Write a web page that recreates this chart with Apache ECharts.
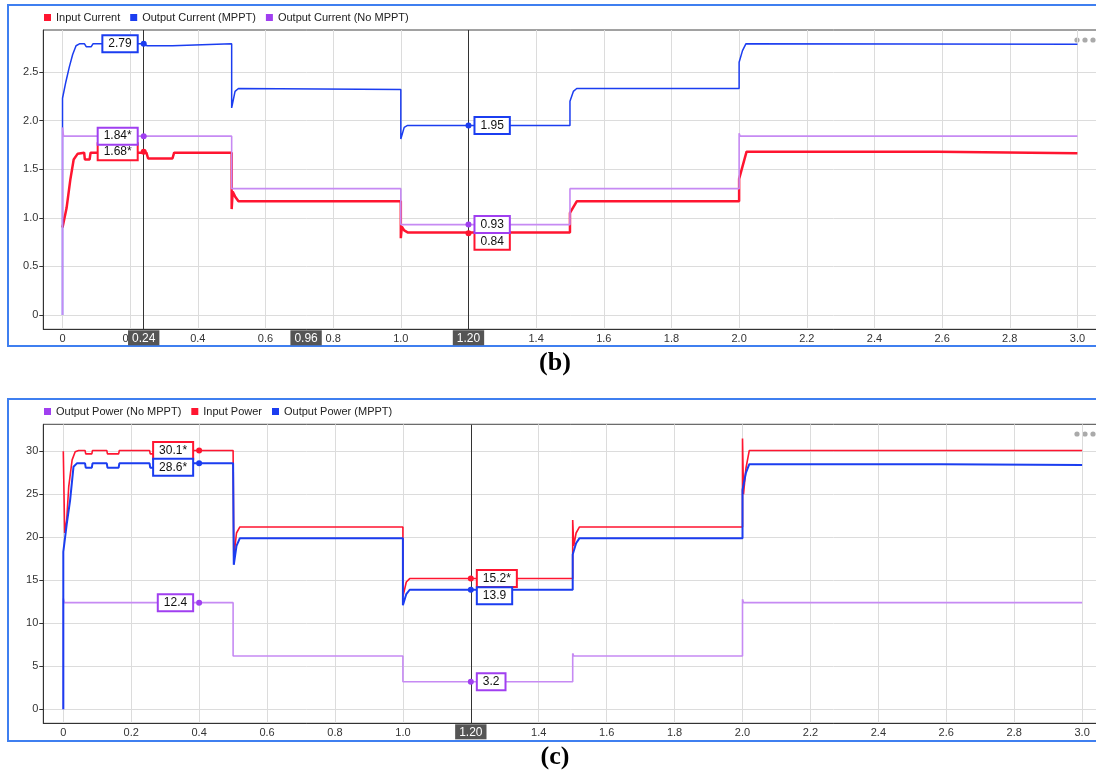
<!DOCTYPE html>
<html>
<head>
<meta charset="utf-8">
<title>MPPT current / power</title>
<script src="https://cdn.jsdelivr.net/npm/echarts@6/dist/echarts.min.js"></script>
<style>
  html, body { margin: 0; padding: 0; background: #fff; }
  #chart { width: 1096px; height: 773px; }
</style>
</head>
<body>
<div id="chart"></div>
<script>
// tick values
var xTicks = [0, 0.2, 0.4, 0.6, 0.8, 1.0, 1.2, 1.4, 1.6, 1.8, 2.0, 2.2, 2.4, 2.6, 2.8, 3.0];
var currentTicks = [0, 0.5, 1.0, 1.5, 2.0, 2.5];
var powerTicks = [0, 5, 10, 15, 20, 25, 30];

// (b) currents  [t, A]
var inputCurrent = [
  [0, 0.9], [0.012, 1.1], [0.023, 1.39], [0.033, 1.6], [0.045, 1.66], [0.064, 1.67], [0.066, 1.6],
  [0.08, 1.6], [0.083, 1.67], [0.235, 1.67], [0.24, 1.69], [0.248, 1.67], [0.253, 1.61], [0.325, 1.61],
  [0.33, 1.67], [0.5, 1.67], [0.5, 1.09], [0.503, 1.27], [0.51, 1.22], [0.52, 1.17], [1.0, 1.17],
  [1.0, 0.79], [1.003, 0.91], [1.01, 0.87], [1.02, 0.85], [1.5, 0.85], [1.5, 1.05], [1.52, 1.17],
  [2.0, 1.17], [2.0, 1.4], [2.022, 1.68], [2.585, 1.68], [2.59, 1.665], [3.0, 1.665]
];
var outputCurrentMppt = [
  [0, 0], [0, 2.23], [0.01, 2.4], [0.02, 2.55], [0.03, 2.68], [0.04, 2.77], [0.05, 2.79],
  [0.065, 2.79], [0.07, 2.76], [0.085, 2.76], [0.09, 2.79], [0.24, 2.79], [0.25, 2.77], [0.325, 2.77],
  [0.33, 2.79], [0.5, 2.79], [0.5, 2.13], [0.51, 2.3], [0.52, 2.33], [1.0, 2.32], [1.0, 1.81],
  [1.01, 1.93], [1.02, 1.95], [1.5, 1.95], [1.5, 2.2], [1.51, 2.3], [1.52, 2.33], [2.0, 2.33],
  [2.0, 2.6], [2.01, 2.72], [2.02, 2.79], [3.0, 2.785]
];
var outputCurrentNoMppt = [
  [0, 0], [0, 1.93], [0.003, 1.84], [0.5, 1.84], [0.5, 1.3], [1.0, 1.3], [1.0, 0.93], [1.5, 0.93],
  [1.5, 1.3], [2.0, 1.3], [2.0, 1.87], [2.003, 1.84], [3.0, 1.84]
];

// (c) powers  [t, W]
var outputPowerNoMppt = [
  [0, 0], [0, 12.9], [0.003, 12.4], [0.5, 12.4], [0.5, 6.2], [1.0, 6.2], [1.0, 3.2], [1.5, 3.2],
  [1.5, 6.5], [1.503, 6.2], [2.0, 6.2], [2.0, 12.8], [2.003, 12.4], [3.0, 12.4]
];
var inputPower = [
  [0, 30], [0.004, 20.5], [0.01, 22], [0.016, 25.9], [0.026, 29], [0.035, 29.95], [0.045, 30.1],
  [0.064, 30.1], [0.066, 29.7], [0.084, 29.7], [0.086, 30.1], [0.128, 30.1], [0.13, 29.7],
  [0.163, 29.7], [0.165, 30.1], [0.254, 30.1], [0.256, 29.7], [0.285, 29.7], [0.287, 30.1],
  [0.5, 30.1], [0.502, 17.7], [0.51, 20.5], [0.52, 21.2], [1.0, 21.2], [1.0, 13.1], [1.01, 14.8],
  [1.02, 15.2], [1.5, 15.2], [1.5, 22.0], [1.503, 19], [1.51, 20.5], [1.52, 21.2], [2.0, 21.2],
  [2.0, 31.5], [2.003, 25], [2.01, 28], [2.02, 30.1], [3.0, 30.1]
];
var outputPowerMppt = [
  [0, 0], [0, 18.3], [0.01, 21.5], [0.02, 24.3], [0.03, 28.2], [0.04, 28.6], [0.064, 28.6],
  [0.066, 28.1], [0.084, 28.1], [0.086, 28.6], [0.128, 28.6], [0.13, 28.1], [0.163, 28.1],
  [0.165, 28.6], [0.254, 28.6], [0.256, 28.1], [0.285, 28.1], [0.287, 28.6], [0.5, 28.6],
  [0.502, 16.8], [0.51, 19.0], [0.52, 19.9], [1.0, 19.9], [1.0, 12.1], [1.01, 13.4], [1.02, 13.9],
  [1.5, 13.9], [1.5, 18.0], [1.51, 19.3], [1.52, 19.9], [2.0, 19.9], [2.0, 25.5], [2.01, 27.5],
  [2.02, 28.5], [2.585, 28.5], [2.59, 28.4], [3.0, 28.4]
];

// cursors: [label, t]
var cursorsB = [['0.24', 0.24], ['1.20', 1.20]];
var deltaB = ['0.96', 0.72];
var cursorsC = [['1.20', 1.20]];

// readouts: [t, value, text, side, dy]
var readInputCurrent = [[0.24, 1.68, '1.68*', 'left', 0], [1.20, 0.84, '0.84', 'right', 8]];
var readOutputCurrentMppt = [[0.24, 2.79, '2.79', 'left', 0], [1.20, 1.95, '1.95', 'right', 0]];
var readOutputCurrentNoMppt = [[0.24, 1.84, '1.84*', 'left', 0], [1.20, 0.93, '0.93', 'right', 0]];
var readInputPower = [[0.4, 30.1, '30.1*', 'left', 0], [1.20, 15.2, '15.2*', 'right', 0]];
var readOutputPowerMppt = [[0.4, 28.6, '28.6*', 'left', 4], [1.20, 13.9, '13.9', 'right', 6]];
var readOutputPowerNoMppt = [[0.4, 12.4, '12.4', 'left', 0], [1.20, 3.2, '3.2', 'right', 0]];

var RED = '#ff1530';
var BLUE = '#1b3df0';
var PURPLE = '#a03ff0';
var PURPLE_LINE = '#c68af3';
var FONT = '"Liberation Sans", Arial, Helvetica, sans-serif';

function readout(list, color) {
  return {
    symbol: 'circle',
    symbolSize: 6,
    silent: true,
    itemStyle: { color: color },
    label: {
      show: true,
      formatter: '{b}',
      backgroundColor: '#fff',
      borderColor: color,
      borderWidth: 2,
      padding: [2, 5, 1, 5],
      color: '#111',
      fontSize: 12,
      fontFamily: FONT,
      distance: 4
    },
    data: list.map(function (r) {
      return { name: r[2], coord: [r[0], r[1]], label: { position: r[3], offset: [0, r[4]] } };
    })
  };
}

function cursorLines(list, delta) {
  var data = list.map(function (c) { return { name: c[0], xAxis: c[1] }; });
  if (delta) {
    // span between the two cursors: label only, no line
    data.push({ name: delta[0], xAxis: delta[1], lineStyle: { color: 'rgba(0,0,0,0)' } });
  }
  return {
    silent: true,
    symbol: ['none', 'none'],
    lineStyle: { color: '#333', type: 'solid', width: 1 },
    label: {
      show: true,
      position: 'start',
      formatter: '{b}',
      backgroundColor: '#555',
      color: '#fff',
      padding: [2, 4, 1, 4],
      fontSize: 12,
      fontFamily: FONT,
      distance: 1
    },
    data: data
  };
}

function numLabel(v) {
  return v === 0 ? '0' : v.toFixed(1);
}

function xAxis(idx, min, max) {
  return {
    type: 'value',
    gridIndex: idx,
    min: min,
    max: max,
    axisLine: { show: true, onZero: false, lineStyle: { color: '#333' } },
    axisTick: { show: false, customValues: xTicks },
    axisLabel: { customValues: xTicks, formatter: numLabel, color: '#333', fontSize: 11, fontFamily: FONT, margin: 4 },
    splitLine: { show: true, lineStyle: { color: '#dcdcdc' } }
  };
}

function yAxis(idx, min, max, ticks, fmt) {
  return {
    type: 'value',
    gridIndex: idx,
    min: min,
    max: max,
    axisLine: { show: true, onZero: false, lineStyle: { color: '#333' } },
    axisTick: { show: true, length: 4, customValues: ticks, lineStyle: { color: '#333' } },
    axisLabel: { customValues: ticks, formatter: fmt, color: '#333', fontSize: 11, fontFamily: FONT, margin: 5 },
    splitLine: { show: true, lineStyle: { color: '#dcdcdc' } }
  };
}

function line(name, data, idx, color, lineColor, width, marks, cursors) {
  var s = {
    name: name,
    type: 'line',
    xAxisIndex: idx,
    yAxisIndex: idx,
    data: data,
    showSymbol: false,
    symbol: 'none',
    itemStyle: { color: color },
    lineStyle: { color: lineColor, width: width },
    markPoint: marks
  };
  if (cursors) s.markLine = cursors;
  return s;
}

function dots(y) {
  return [1077, 1085, 1093].map(function (x) {
    return { type: 'circle', shape: { cx: x, cy: y, r: 2.6 }, style: { fill: '#aaa' }, silent: true };
  });
}

var chart = echarts.init(document.getElementById('chart'));
chart.setOption({
  animation: false,
  backgroundColor: '#fff',
  textStyle: { fontFamily: FONT },
  graphic: [
    { type: 'rect', shape: { x: 8, y: 5, width: 1200, height: 341 }, style: { fill: 'none', stroke: '#3f7ff0', lineWidth: 2 }, silent: true },
    { type: 'rect', shape: { x: 8, y: 399, width: 1200, height: 342 }, style: { fill: 'none', stroke: '#3f7ff0', lineWidth: 2 }, silent: true },
    { type: 'text', x: 555, y: 363, style: { text: '(b)', font: 'bold 26px "Liberation Serif", "Times New Roman", serif', fill: '#000', textAlign: 'center', textVerticalAlign: 'middle' }, silent: true },
    { type: 'text', x: 555, y: 757, style: { text: '(c)', font: 'bold 26px "Liberation Serif", "Times New Roman", serif', fill: '#000', textAlign: 'center', textVerticalAlign: 'middle' }, silent: true }
  ].concat(dots(40), dots(434)),
  legend: [
    {
      left: 44, top: 12, padding: 0, itemGap: 10, itemWidth: 7, itemHeight: 7, icon: 'rect',
      textStyle: { fontSize: 11, color: '#222', fontFamily: FONT },
      data: ['Input Current', 'Output Current (MPPT)', 'Output Current (No MPPT)']
    },
    {
      left: 44, top: 406, padding: 0, itemGap: 10, itemWidth: 7, itemHeight: 7, icon: 'rect',
      textStyle: { fontSize: 11, color: '#222', fontFamily: FONT },
      data: ['Output Power (No MPPT)', 'Input Power', 'Output Power (MPPT)']
    }
  ],
  grid: [
    { left: 43.3, top: 30, width: 1060, height: 299.3, show: true, borderColor: '#444', borderWidth: 1, outerBoundsMode: 'none' },
    { left: 43.3, top: 424.3, width: 1060, height: 299, show: true, borderColor: '#444', borderWidth: 1, outerBoundsMode: 'none' }
  ],
  xAxis: [
    xAxis(0, -0.0568, 3.0765),
    xAxis(1, -0.0589, 3.0624)
  ],
  yAxis: [
    yAxis(0, -0.147, 2.932, currentTicks, numLabel),
    yAxis(1, -1.63, 33.14, powerTicks, null)
  ],
  series: [
    line('Input Current', inputCurrent, 0, RED, RED, 2.5, readout(readInputCurrent, RED), cursorLines(cursorsB, deltaB)),
    line('Output Current (MPPT)', outputCurrentMppt, 0, BLUE, BLUE, 1.5, readout(readOutputCurrentMppt, BLUE)),
    line('Output Current (No MPPT)', outputCurrentNoMppt, 0, PURPLE, PURPLE_LINE, 1.6, readout(readOutputCurrentNoMppt, PURPLE)),
    line('Output Power (No MPPT)', outputPowerNoMppt, 1, PURPLE, PURPLE_LINE, 1.6, readout(readOutputPowerNoMppt, PURPLE), cursorLines(cursorsC)),
    line('Input Power', inputPower, 1, RED, RED, 1.6, readout(readInputPower, RED)),
    line('Output Power (MPPT)', outputPowerMppt, 1, BLUE, BLUE, 2, readout(readOutputPowerMppt, BLUE))
  ]
});
</script>
</body>
</html>
